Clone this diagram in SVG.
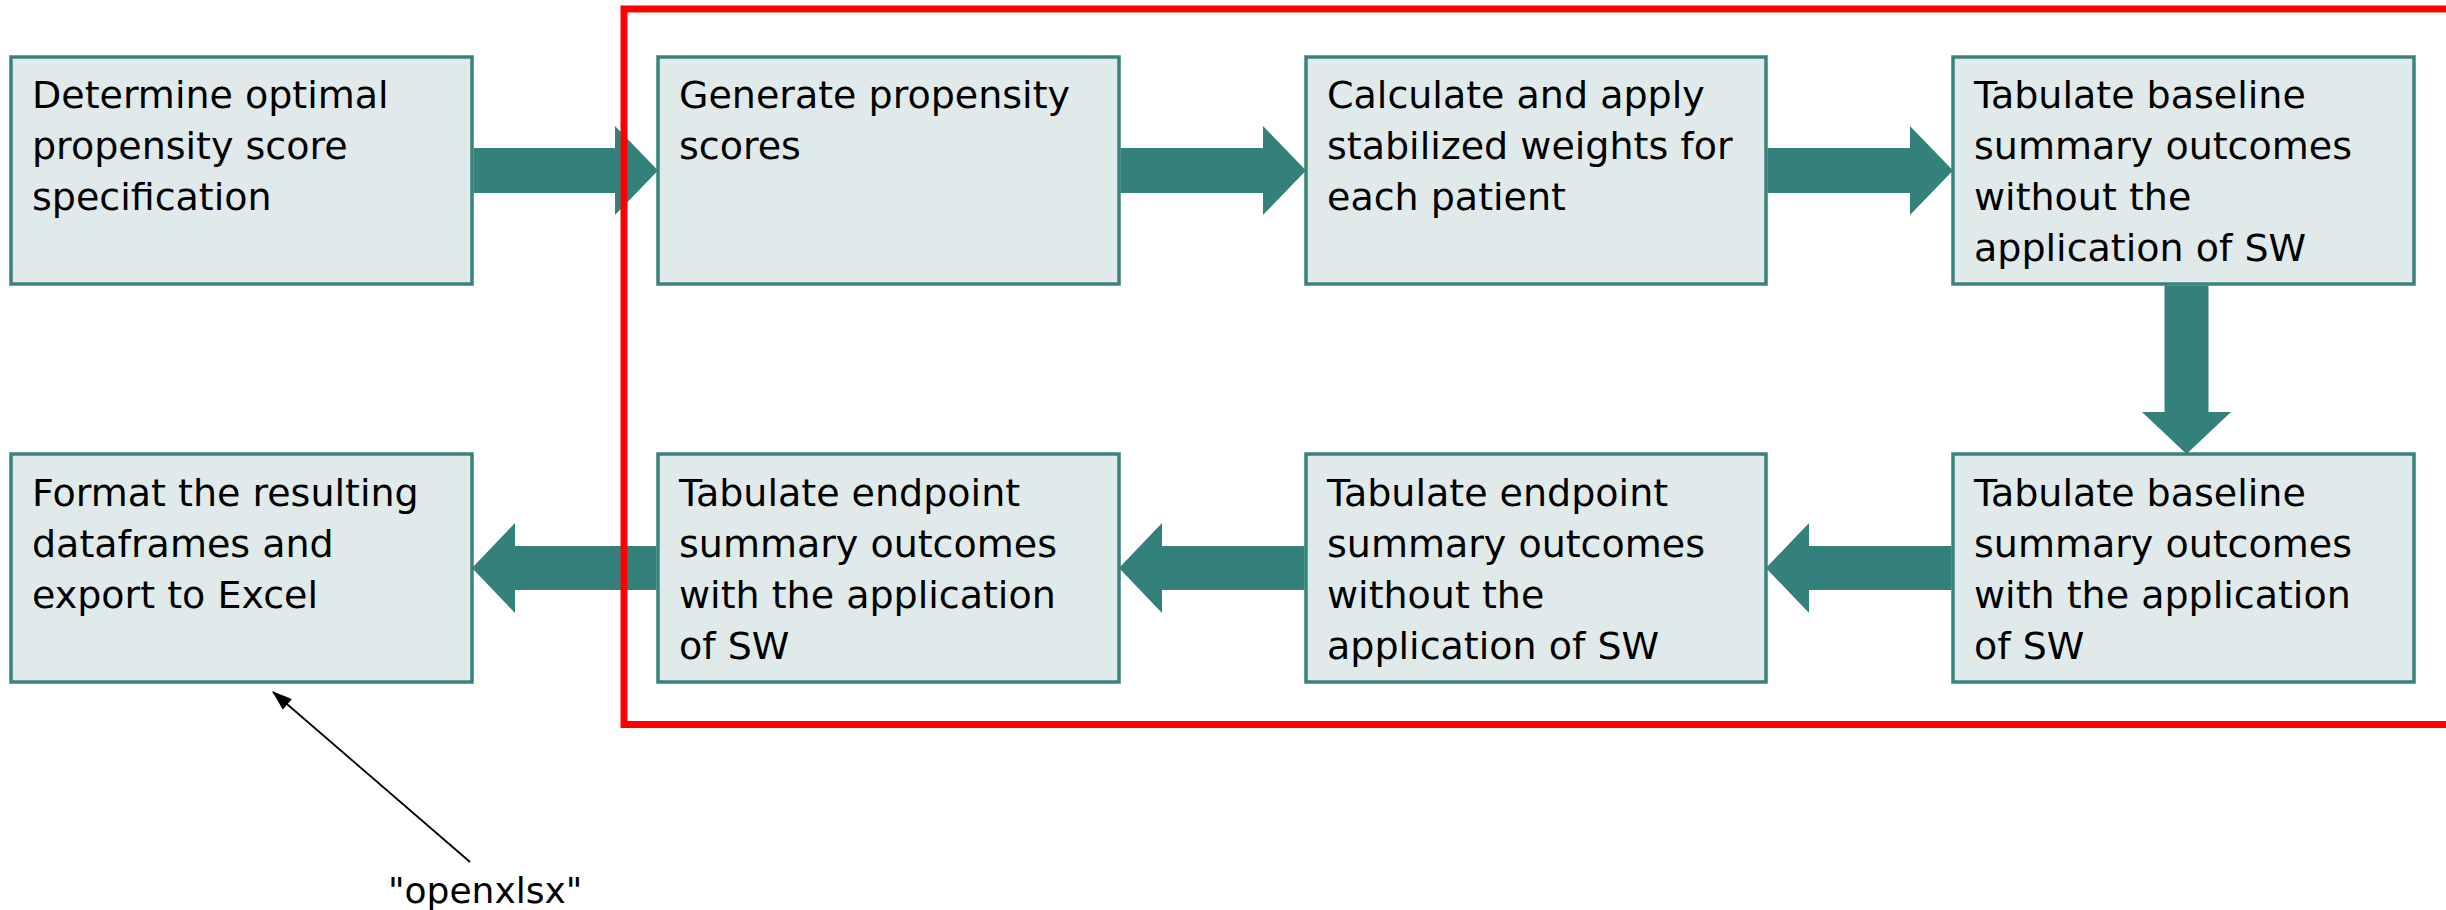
<svg xmlns="http://www.w3.org/2000/svg" width="2446" height="910" viewBox="0 0 2446 910">
<style>
.box{fill:#e1eaea;stroke:#3a827e;stroke-width:3.5}
.t{font-family:"DejaVu Sans",sans-serif;font-size:38px;fill:#000}
.arr{fill:#34817c;stroke:none}
.lbl{font-family:"DejaVu Sans",sans-serif;font-size:36px;fill:#000}
</style>
<defs>
<marker id="ah" markerWidth="20" markerHeight="14" refX="19" refY="7" orient="auto" markerUnits="userSpaceOnUse">
<path d="M0,0 L20,7 L0,14 Z" fill="#000"/>
</marker>
</defs>
<rect width="2446" height="910" fill="#fff"/>
<g id="n1"><rect class="box" x="11" y="57" width="461" height="227"/>
<text class="t" x="32" y="107.5">Determine optimal</text><text class="t" x="32" y="158.5">propensity score</text><text class="t" x="32" y="209.5">specification</text></g>
<g id="n2"><rect class="box" x="658" y="57" width="461" height="227"/>
<text class="t" x="679" y="107.5">Generate propensity</text><text class="t" x="679" y="158.5">scores</text></g>
<g id="n3"><rect class="box" x="1306" y="57" width="460" height="227"/>
<text class="t" x="1327" y="107.5">Calculate and apply</text><text class="t" x="1327" y="158.5">stabilized weights for</text><text class="t" x="1327" y="209.5">each patient</text></g>
<g id="n4"><rect class="box" x="1953" y="57" width="461" height="227"/>
<text class="t" x="1974" y="107.5">Tabulate baseline</text><text class="t" x="1974" y="158.5">summary outcomes</text><text class="t" x="1974" y="209.5">without the</text><text class="t" x="1974" y="260.5">application of SW</text></g>
<g id="n5"><rect class="box" x="1953" y="454" width="461" height="228"/>
<text class="t" x="1974" y="506">Tabulate baseline</text><text class="t" x="1974" y="557">summary outcomes</text><text class="t" x="1974" y="608">with the application</text><text class="t" x="1974" y="659">of SW</text></g>
<g id="n6"><rect class="box" x="1306" y="454" width="460" height="228"/>
<text class="t" x="1327" y="506">Tabulate endpoint</text><text class="t" x="1327" y="557">summary outcomes</text><text class="t" x="1327" y="608">without the</text><text class="t" x="1327" y="659">application of SW</text></g>
<g id="n7"><rect class="box" x="658" y="454" width="461" height="228"/>
<text class="t" x="679" y="506">Tabulate endpoint</text><text class="t" x="679" y="557">summary outcomes</text><text class="t" x="679" y="608">with the application</text><text class="t" x="679" y="659">of SW</text></g>
<g id="n8"><rect class="box" x="11" y="454" width="461" height="228"/>
<text class="t" x="32" y="506">Format the resulting</text><text class="t" x="32" y="557">dataframes and</text><text class="t" x="32" y="608">export to Excel</text></g>
<g id="connectors">
<polygon class="arr" points="473.5,148 615,148 615,126 658,170.5 615,215 615,193 473.5,193"/>
<polygon class="arr" points="1120.5,148 1263,148 1263,126 1306,170.5 1263,215 1263,193 1120.5,193"/>
<polygon class="arr" points="1767.5,148 1910,148 1910,126 1953,170.5 1910,215 1910,193 1767.5,193"/>
<polygon class="arr" points="2164.5,285.5 2208.5,285.5 2208.5,412 2231,412 2186.5,454 2142,412 2164.5,412"/>
<polygon class="arr" points="1951.5,546 1809,546 1809,523 1766,568 1809,613 1809,590 1951.5,590"/>
<polygon class="arr" points="1304.5,546 1162,546 1162,523 1119,568 1162,613 1162,590 1304.5,590"/>
<polygon class="arr" points="656.5,546 515,546 515,523 472,568 515,613 515,590 656.5,590"/>
<line x1="470" y1="862" x2="273" y2="692" stroke="#000" stroke-width="1.8" marker-end="url(#ah)"/>
</g>
<text class="lbl" x="388" y="903">"openxlsx"</text>
<rect x="624" y="9" width="1850" height="715.5" fill="none" stroke="#ff0000" stroke-width="7"/>
</svg>
